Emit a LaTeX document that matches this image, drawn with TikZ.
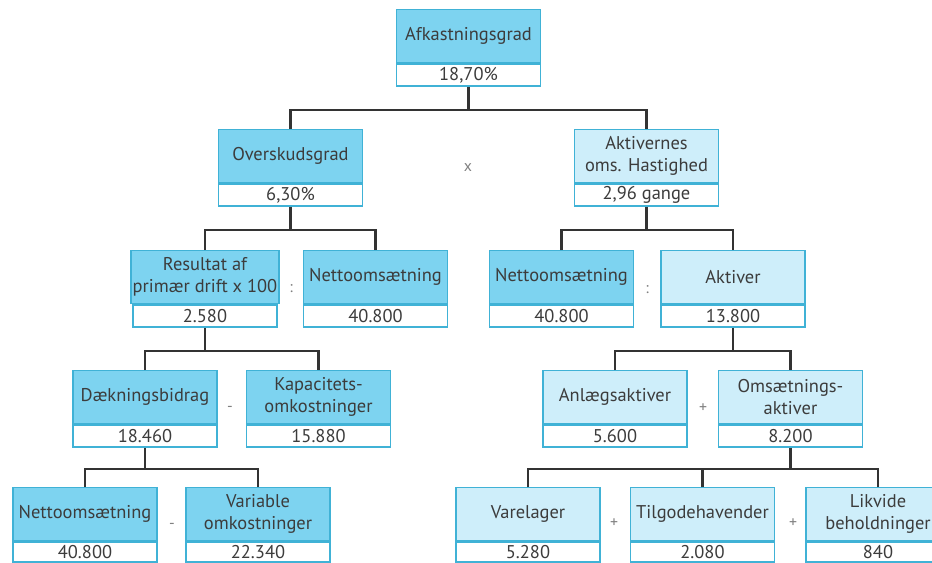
\documentclass[tikz,border=0pt]{standalone}
\usepackage{fontspec}
\setmainfont{PT Sans}
\usetikzlibrary{positioning}
\definecolor{boxdark}{RGB}{125,211,240}
\definecolor{boxlight}{RGB}{206,238,250}
\definecolor{boxline}{RGB}{64,178,214}
\definecolor{txtgray}{RGB}{60,60,60}

\begin{document}
\begin{tikzpicture}[
    lbl/.style={rectangle, draw=boxline, line width=0.8pt, anchor=north,
      minimum width=2.88cm, minimum height=1.06cm, align=center, inner sep=1pt,
      text=txtgray, font=\fontsize{10.5}{12.5}\selectfont},
    dark/.style={lbl, fill=boxdark},
    light/.style={lbl, fill=boxlight},
    val/.style={rectangle, draw=boxline, line width=0.8pt, fill=white,
      minimum width=2.88cm, minimum height=0.44cm, inner sep=0pt,
      text=txtgray, font=\fontsize{10.5}{12.5}\selectfont},
    op/.style={text=gray, font=\small},
    link/.style={line width=1.2pt, draw=black!80}
  ]
  \useasboundingbox (0,0) rectangle (18.64,-11.26);

  % level 1
  \node[dark] (afk) at (9.37,-0.18) {Afkastningsgrad};
  \node[val, below=0pt of afk] (afkv) {18,70\%};

  % level 2
  \node[dark] (ovr) at (5.81,-2.58) {Overskudsgrad};
  \node[val, below=0pt of ovr] (ovrv) {6,30\%};
  \node[light] (akt) at (12.93,-2.58) {Aktivernes\\oms. Hastighed};
  \node[val, below=0pt of akt] (aktv) {2,96 gange};
  \node[op] (op1) at (9.36,-3.36) {x};

  % level 3
  \node[dark] (res) at (4.10,-5.0) {Resultat af\\primær drift x 100};
  \node[val, below=0pt of res] (resv) {2.580};
  \node[dark] (net1) at (7.51,-5.0) {Nettoomsætning};
  \node[val, below=0pt of net1] (net1v) {40.800};
  \node[op] (op2) at (5.82,-5.78) {:};
  \node[dark] (net2) at (11.23,-5.0) {Nettoomsætning};
  \node[val, below=0pt of net2] (net2v) {40.800};
  \node[light] (aktiv) at (14.66,-5.0) {Aktiver};
  \node[val, below=0pt of aktiv] (aktivv) {13.800};
  \node[op] (op3) at (12.94,-5.80) {:};

  % level 4
  \node[dark] (daek) at (2.90,-7.40) {Dækningsbidrag};
  \node[val, below=0pt of daek] (daekv) {18.460};
  \node[dark] (kap) at (6.37,-7.40) {Kapacitets-\\omkostninger};
  \node[val, below=0pt of kap] (kapv) {15.880};
  \node[op] (op4) at (4.60,-8.18) {-};
  \node[light] (anl) at (12.30,-7.40) {Anlægsaktiver};
  \node[val, below=0pt of anl] (anlv) {5.600};
  \node[light] (oms) at (15.81,-7.40) {Omsætnings-\\aktiver};
  \node[val, below=0pt of oms] (omsv) {8.200};
  \node[op] (op5) at (14.06,-8.16) {+};

  % level 5 (cut off at the bottom edge, as in the source)
  \node[dark] (net3) at (1.70,-9.74) {Nettoomsætning};
  \node[val, below=0pt of net3, minimum height=0.40cm] (net3v) {40.800};
  \node[dark] (var) at (5.16,-9.74) {Variable\\omkostninger};
  \node[val, below=0pt of var, minimum height=0.40cm] (varv) {22.340};
  \node[op] (op6) at (3.44,-10.52) {-};
  \node[light] (vare) at (10.56,-9.74) {Varelager};
  \node[val, below=0pt of vare, minimum height=0.40cm] (varev) {5.280};
  \node[light] (tilg) at (14.05,-9.74) {Tilgodehavender};
  \node[val, below=0pt of tilg, minimum height=0.40cm] (tilgv) {2.080};
  \node[op] (op7) at (12.28,-10.46) {+};
  \node[light] (likv) at (17.56,-9.74) {Likvide\\beholdninger};
  \node[val, below=0pt of likv, minimum height=0.40cm] (likvv) {840};
  \node[op] (op8) at (15.86,-10.46) {+};

  % connectors
  \draw[link] (afkv.south) -- ++(0,-0.46) coordinate (j1);
  \draw[link] (ovr.north) |- (j1) -| (akt.north);
  \draw[link] (ovrv.south) -- ++(0,-0.46) coordinate (j2);
  \draw[link] (res.north) |- (j2) -| (net1.north);
  \draw[link] (aktv.south) -- ++(0,-0.46) coordinate (j3);
  \draw[link] (net2.north) |- (j3) -| (aktiv.north);
  \draw[link] (resv.south) -- ++(0,-0.46) coordinate (j4);
  \draw[link] (daek.north) |- (j4) -| (kap.north);
  \draw[link] (aktivv.south) -- ++(0,-0.46) coordinate (j5);
  \draw[link] (anl.north) |- (j5) -| (oms.north);
  \draw[link] (daekv.south) -- ++(0,-0.43) coordinate (j6);
  \draw[link] (net3.north) |- (j6) -| (var.north);
  \draw[link] (omsv.south) -- ++(0,-0.43) coordinate (j7);
  \draw[link] (vare.north) |- (j7) -| (likv.north);
  \draw[link] (tilg.north) -- (tilg.north |- j7);
\end{tikzpicture}
\end{document}
